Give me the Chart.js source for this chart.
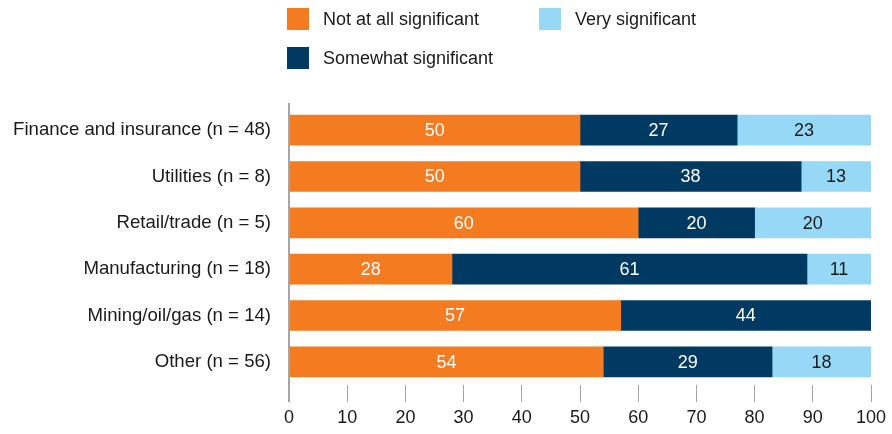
<!DOCTYPE html>
<html lang="en">
<head>
    <meta charset="UTF-8">
    <title>Significance by industry</title>
    <style>
        body {
            margin: 0;
            padding: 0;
            background: #fff;
            font-family: "Liberation Sans", Arial, sans-serif;
        }

        #wrap {
            position: relative;
            width: 892px;
            height: 434px;
        }

        .legendItem {
            position: absolute;
            font-size: 18px;
            color: #1a1a1a;
            line-height: 22px;
            white-space: nowrap;
        }

        .legendItem span {
            display: inline-block;
            width: 22px;
            height: 22px;
            vertical-align: top;
            margin-right: 14px;
        }
    </style>
</head>
<body>
    <div id="wrap">
        <div id="legend"></div>
        <canvas id="chart" width="892" height="434"></canvas>
    </div>

    <script src="https://cdn.jsdelivr.net/npm/chart.js"></script>
    <script>
        const categories = [
            "Finance and insurance (n = 48)",
            "Utilities (n = 8)",
            "Retail/trade (n = 5)",
            "Manufacturing (n = 18)",
            "Mining/oil/gas (n = 14)",
            "Other (n = 56)"
        ];
        const notAtAll = [50, 50, 60, 28, 57, 54];
        const somewhat = [27, 38, 20, 61, 44, 29];
        const very = [23, 13, 20, 11, 0, 18];
        const xTicks = [0, 10, 20, 30, 40, 50, 60, 70, 80, 90, 100];

        const colors = {
            orange: "#f47b20",
            navy: "#003a63",
            lightBlue: "#97d8f6",
            axis: "#a5a5a5",
            text: "#1a1a1a"
        };
        const fontFamily = "'Liberation Sans', Arial, sans-serif";

        // legend laid out like the original: two columns, wrap onto a second row
        const legendItems = [
            { label: "Not at all significant", color: colors.orange, x: 287, y: 8 },
            { label: "Very significant", color: colors.lightBlue, x: 539, y: 8 },
            { label: "Somewhat significant", color: colors.navy, x: 287, y: 47 }
        ];
        const legend = document.getElementById("legend");
        legendItems.forEach(item => {
            const div = document.createElement("div");
            div.className = "legendItem";
            div.style.left = item.x + "px";
            div.style.top = item.y + "px";
            div.innerHTML = `<span style="background:${item.color}"></span>${item.label}`;
            legend.appendChild(div);
        });

        // value labels in the middle of each segment
        const barLabels = {
            id: "barLabels",
            afterDatasetsDraw(chart) {
                const ctx = chart.ctx;
                ctx.save();
                ctx.font = "18px " + fontFamily;
                ctx.textAlign = "center";
                ctx.textBaseline = "middle";
                chart.data.datasets.forEach((ds, i) => {
                    const meta = chart.getDatasetMeta(i);
                    meta.data.forEach((bar, j) => {
                        const v = ds.data[j];
                        if (!v) return;
                        const right = Math.min(bar.x, chart.chartArea.right);
                        const left = Math.max(bar.base, chart.chartArea.left);
                        ctx.fillStyle = ds.labelColor;
                        ctx.fillText(String(v), (left + right) / 2, bar.y + 1);
                    });
                });
                ctx.restore();
            }
        };

        // vertical axis line, running a bit past the plot like the original
        const axisLine = {
            id: "axisLine",
            afterDraw(chart) {
                const ctx = chart.ctx;
                const x = chart.scales.x.getPixelForValue(0);
                ctx.save();
                ctx.strokeStyle = colors.axis;
                ctx.lineWidth = 2;
                ctx.beginPath();
                ctx.moveTo(x, chart.chartArea.top - 4);
                ctx.lineTo(x, chart.chartArea.bottom + 17);
                ctx.stroke();
                ctx.restore();
            }
        };

        const ctx = document.getElementById("chart").getContext("2d");
        new Chart(ctx, {
            type: "bar",
            data: {
                labels: categories,
                datasets: [
                    { label: "Not at all significant", data: notAtAll, backgroundColor: colors.orange, labelColor: "#ffffff" },
                    { label: "Somewhat significant", data: somewhat, backgroundColor: colors.navy, labelColor: "#ffffff" },
                    { label: "Very significant", data: very, backgroundColor: colors.lightBlue, labelColor: colors.text }
                ]
            },
            options: {
                indexAxis: "y",
                responsive: false,
                animation: false,
                barThickness: 30,
                layout: {
                    padding: { top: 107, right: 21, left: 0, bottom: 0 }
                },
                plugins: {
                    legend: { display: false },
                    tooltip: { enabled: false }
                },
                scales: {
                    x: {
                        stacked: true,
                        min: 0,
                        max: 100,
                        afterBuildTicks(scale) {
                            scale.ticks = xTicks.map(v => ({ value: v }));
                        },
                        afterFit(scale) {
                            scale.height = 49;
                        },
                        border: { display: false },
                        grid: {
                            drawOnChartArea: false,
                            tickLength: 17,
                            color: colors.axis,
                            lineWidth: 1
                        },
                        ticks: {
                            color: colors.text,
                            font: { size: 18, family: fontFamily },
                            padding: 5,
                            maxRotation: 0
                        }
                    },
                    y: {
                        stacked: true,
                        afterFit(scale) {
                            scale.width = 289;
                        },
                        border: { display: false },
                        grid: { display: false },
                        ticks: {
                            color: colors.text,
                            font: { size: 18.6, family: fontFamily },
                            padding: 10
                        }
                    }
                }
            },
            plugins: [barLabels, axisLine]
        });
    </script>
</body>
</html>
